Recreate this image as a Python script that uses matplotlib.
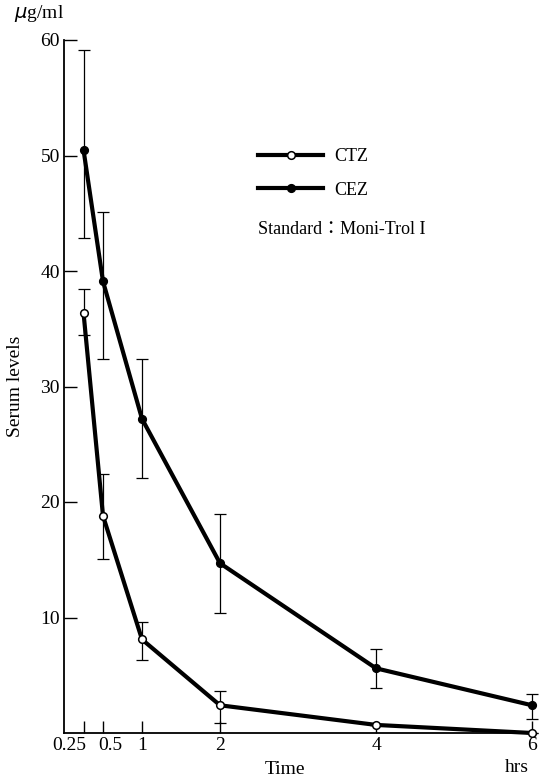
import matplotlib as mpl
mpl.use('agg')
import matplotlib.pyplot as plt
import matplotlib.transforms as mtransforms
import numpy as np

plt.rcParams['font.family'] = ['Liberation Serif', 'DejaVu Serif']

# time points (hrs)
hours = [0.25, 0.5, 1, 2, 4, 6]
tick_labels = ['0.25', '0.5', '1', '2', '4', '6']

# CTZ serum levels (ug/ml), open circles
ctz_mean = [36.4, 18.8, 8.1, 2.4, 0.7, 0.0]
ctz_hi = [38.4, 22.4, 9.6, 3.6, 0.7, 0.0]
ctz_lo = [34.5, 15.1, 6.3, 0.9, 0.7, 0.0]

# CEZ serum levels (ug/ml), filled circles
cez_mean = [50.5, 39.1, 27.2, 14.7, 5.6, 2.4]
cez_hi = [59.1, 45.1, 32.4, 19.0, 7.3, 3.4]
cez_lo = [42.9, 32.4, 22.1, 10.4, 3.9, 1.2]

fig = plt.figure(figsize=(5.4, 7.82), dpi=100)
ax = fig.add_axes([64/540, 1 - 733/782, (532 - 64)/540, (733 - 40)/782])

def draw(mean, hi, lo, face, label):
    mean = np.array(mean)
    yerr = [mean - np.array(lo), np.array(hi) - mean]
    ax.errorbar(hours, mean, yerr=yerr, fmt='none', ecolor='black',
                elinewidth=0.9, capsize=4.5, capthick=0.9, clip_on=False, zorder=2)
    ax.plot(hours, mean, color='black', lw=3.0, marker='o', ms=5.5,
            mfc=face, mec='black', mew=1.1, clip_on=False, zorder=3, label=label)

draw(ctz_mean, ctz_hi, ctz_lo, 'white', 'CTZ')
draw(cez_mean, cez_hi, cez_lo, 'black', 'CEZ')

ax.set_xlim(0, 6)
ax.set_ylim(0, 60)
for s in ['top', 'right']:
    ax.spines[s].set_visible(False)
for s in ['left', 'bottom']:
    ax.spines[s].set_linewidth(1.3)

ax.set_xticks(hours)
ax.set_xticklabels(tick_labels)
ax.set_yticks([10, 20, 30, 40, 50, 60])
ax.tick_params(direction='in', length=9, width=1.0, labelsize=14, pad=3)

# nudge crowded labels apart
offs = {0: -14, 1: 7}
for i, lab in enumerate(ax.get_xticklabels()):
    if i in offs:
        lab.set_transform(lab.get_transform() +
                          mtransforms.ScaledTranslation(offs[i]/100, 0, fig.dpi_scale_trans))

ax.set_ylabel('Serum levels', fontsize=14, labelpad=12)
fig.text(285/540, 1 - 770/782, 'Time', fontsize=14, ha='center', va='center')
fig.text(517/540, 1 - 768/782, 'hrs', fontsize=14, ha='center', va='center')
fig.text(14/540, 1 - 14/782, r'$\mu$g/ml', fontsize=14, ha='left', va='center')

ax.legend(loc='upper left', bbox_to_anchor=(258/540, 1 - 148/782),
          bbox_transform=fig.transFigure, frameon=False,
          fontsize=13, handlelength=3.6, numpoints=1, labelspacing=0.92,
          handletextpad=0.6, borderaxespad=0, borderpad=0)
fig.text(258/540, 1 - 230/782, 'Standard：Moni-Trol I', fontsize=13,
         ha='left', va='center', family=['Liberation Serif', 'Noto Sans CJK JP'])

fig.savefig('out.png', dpi=100)
